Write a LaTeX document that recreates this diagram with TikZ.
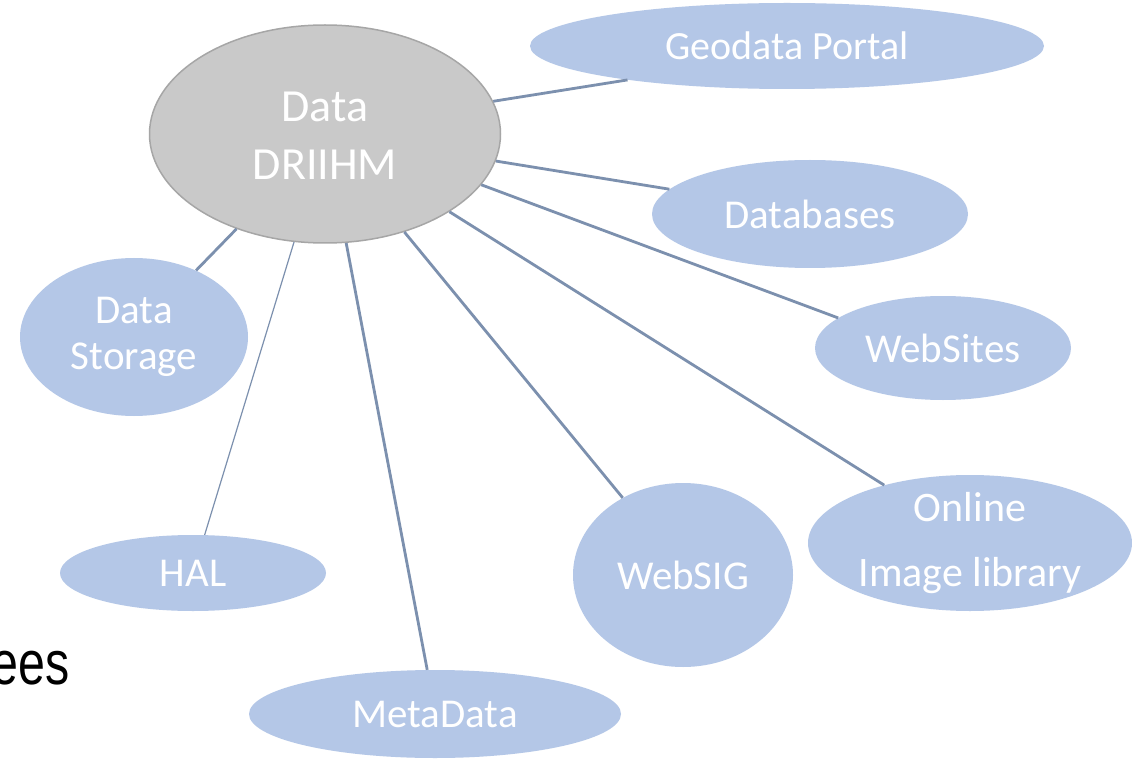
\documentclass[tikz,border=0pt]{standalone}
\usepackage{fontspec}
\usepackage{graphicx}
\setmainfont{Carlito}
\newfontfamily\helv{Liberation Sans}
\usetikzlibrary{shapes.geometric}
\definecolor{leafblue}{RGB}{180,199,231}
\definecolor{hubgray}{RGB}{201,201,201}
\definecolor{hubline}{RGB}{166,166,166}
\definecolor{linkcol}{RGB}{124,144,174}
\begin{document}
\begin{tikzpicture}[x=1pt,y=-1pt,
  hub/.style={ellipse,fill=hubgray,draw=hubline,line width=1.5pt,inner sep=0pt},
  leaf/.style={ellipse,fill=leafblue,draw=none,inner sep=0pt},
  lbl/.style={text=white,align=center,inner sep=0pt},
  link/.style={draw=linkcol,line width=2.8pt},
  thinlink/.style={draw=linkcol,line width=1.2pt}]
\useasboundingbox (0,0) rectangle (1132,759);
\fill[white] (0,0) rectangle (1132,759);

% ellipses
\node[hub,minimum width=351pt,minimum height=218pt] (hub) at (325,134) {};
\node[leaf,minimum width=514pt,minimum height=86pt] (geo) at (787,46) {};
\node[leaf,minimum width=316pt,minimum height=108pt] (dbs) at (810,214) {};
\node[leaf,minimum width=256pt,minimum height=104pt] (web) at (943,348) {};
\node[leaf,minimum width=228pt,minimum height=158pt] (sto) at (134,337) {};
\node[leaf,minimum width=266pt,minimum height=76pt] (hal) at (193,573) {};
\node[leaf,minimum width=372pt,minimum height=88pt] (meta) at (435,714) {};
\node[leaf,minimum width=220pt,minimum height=184pt] (sig) at (683,575) {};
\node[leaf,minimum width=324pt,minimum height=136pt] (img) at (970,543) {};

% texts
\node[lbl,font=\fontsize{46}{58}\selectfont] (hubt) at (325,136) {Data\\DRIIHM};
\node[lbl,font=\fontsize{40}{48}\selectfont] (geot) at (geo.center) {Geodata Portal};
\node[lbl,font=\fontsize{41}{48}\selectfont] (dbst) at (dbs.center) {Databases};
\node[lbl,font=\fontsize{41}{48}\selectfont] (webt) at (web.center) {WebSites};
\node[lbl,font=\fontsize{41}{46}\selectfont] (stot) at (sto.center) {Data\\Storage};
\node[lbl,font=\fontsize{41}{48}\selectfont] (halt) at (hal.center) {HAL};
\node[lbl,font=\fontsize{41}{48}\selectfont] (metat) at (meta.center) {MetaData};
\node[lbl,font=\fontsize{41}{48}\selectfont] (sigt) at (sig.center) {WebSIG};
\node[lbl,font=\fontsize{42}{65}\selectfont] (imgt) at (img.center) {Online\\Image library};

% connectors
\draw[link] (hub.11.2) -- (geo.-168.7);
\draw[link] (hub.-9.35) -- (dbs.170.5);
\draw[link] (hub.-18.7) -- (web.164.9);
\draw[link] (hub.-32.4) -- (img.146.2);
\draw[link] (hub.-51.5) -- (sig.128);
\draw[link] (hub.-79) -- (meta.100.3);
\draw[thinlink] (hub.-106.8) -- (hal.73.9);
\draw[link] (hub.-133.1) -- (sto.47.2);

% cropped word at left
\node[anchor=base east,inner sep=0pt,font=\helv\fontsize{62}{70}\selectfont] (ees) at (70,684) {\scalebox{0.78}[1]{ees}};
\end{tikzpicture}
\end{document}
